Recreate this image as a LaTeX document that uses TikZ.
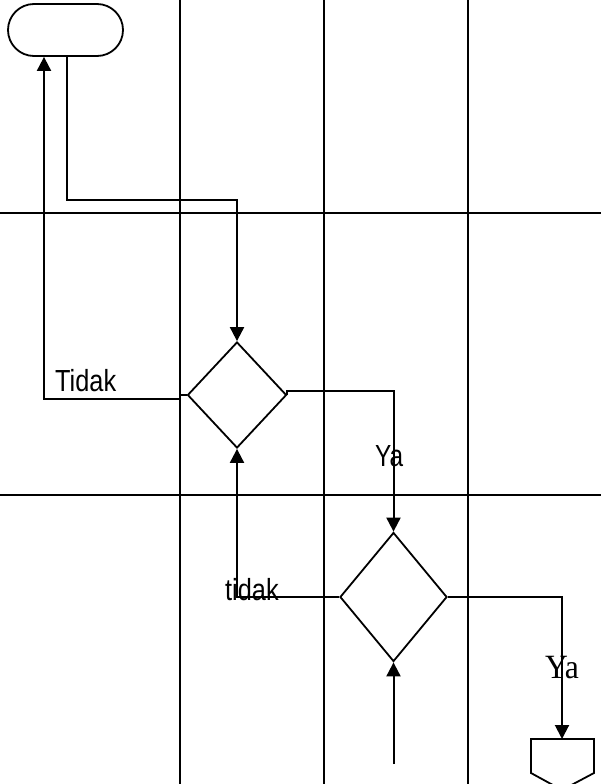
\documentclass[tikz,border=0pt]{standalone}
\usepackage{fontspec}
\setmainfont{Liberation Sans}
\newfontfamily\serifface{Liberation Serif}
\usetikzlibrary{shapes.geometric,shapes.misc,arrows.meta}
\begin{document}
\begin{tikzpicture}[x=1pt,y=-1pt,
  flow/.style={line width=2pt},
  arr/.style={flow,-{Triangle[length=14pt,width=14pt]}},
  gridline/.style={line width=2pt},
  dec/.style={diamond,draw,line width=1.8pt,inner sep=0pt},
  lbl/.style={inner sep=0pt,anchor=base west,font=\fontsize{30.5}{30.5}\selectfont}]
\useasboundingbox (0,0) rectangle (601,784);
\clip (0,0) rectangle (601,784);
% swimlane grid
\draw[gridline] (180,0) -- (180,784);
\draw[gridline] (324,0) -- (324,784);
\draw[gridline] (468,0) -- (468,784);
\draw[gridline] (0,213) -- (601,213);
\draw[gridline] (0,495) -- (601,495);
% shapes
\node[rounded rectangle, draw, line width=1.8pt, minimum width=115pt, minimum height=52pt, inner sep=0pt] (term) at (65.5,30) {};
\node[dec, minimum width=99pt, minimum height=106pt] (d1) at (237,395) {};
\node[dec, minimum width=107pt, minimum height=129pt] (d2) at (393.5,597) {};
\draw[line width=1.8pt] (531,739) -- (594,739) -- (594,773) -- (562,790) -- (531,773) -- cycle;
\coordinate (offtop) at (562,739);
\coordinate (bot) at (393.5,764);
% connectors
\draw[arr] ([xshift=1.5pt]term.south) -- ++(0,143) -| (d1.north);
\draw[arr] (d1.west) -- ++(-7,0) -- ++(0,4) -| ([xshift=-21.5pt]term.south);
\draw[arr] (d1.east) -- ++(0,-4) -| (d2.north);
\draw[arr] (d2.west) -| (d1.south);
\draw[arr] (d2.east) -| (offtop);
\draw[arr] (bot) -- (d2.south);
% labels
\node[lbl] (tidak1) at (55,391) {\scalebox{0.83}[1]{Tidak}};
\node[lbl] (ya1) at (375,466) {\scalebox{0.8}[1]{Ya}};
\node[lbl] (tidak2) at (225,600) {\scalebox{0.83}[1]{tidak}};
\node[lbl, font=\serifface\fontsize{34}{34}\selectfont] (ya2) at (545,678) {\scalebox{0.93}[1]{Ya}};
\end{tikzpicture}
\end{document}
